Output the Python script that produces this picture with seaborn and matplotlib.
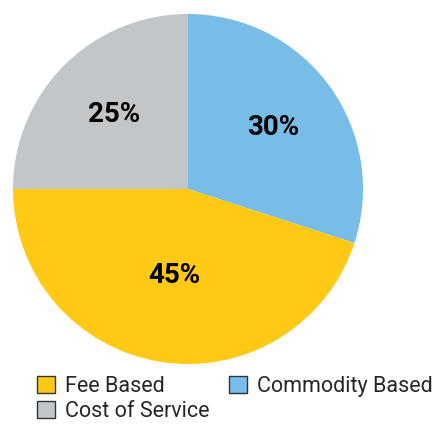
import matplotlib
matplotlib.use("Agg")
import matplotlib.pyplot as plt
from matplotlib.patches import Patch
import numpy as np
import seaborn as sns

labels = ["Commodity Based", "Fee Based", "Cost of Service"]
shares = [30, 45, 25]
colors = ["#78BDE8", "#FFC915", "#C3C6C9"]
legend_order = ["Fee Based", "Cost of Service", "Commodity Based"]
label_dist = [0.6, 0.5, 0.6]

sns.set_theme(style="white")
plt.rcParams['font.family'] = ['Roboto', 'DejaVu Sans']

fig = plt.figure(figsize=(4.38, 4.25), dpi=100)
ax = fig.add_axes([13/438, 61/425, 350/438, 350/425])

wedges, texts = ax.pie(shares, colors=colors, startangle=90, counterclock=False,
                       radius=1, wedgeprops={"linewidth": 0})
ax.set_xlim(-1, 1)
ax.set_ylim(-1, 1)
ax.set_aspect("equal")
ax.axis("off")

for w, s, d in zip(wedges, shares, label_dist):
    ang = np.deg2rad((w.theta1 + w.theta2) / 2)
    ax.text(d*np.cos(ang), d*np.sin(ang), "{}%".format(s), ha="center", va="center",
            fontsize=20, fontweight="bold", color="black")

handles = [Patch(facecolor=colors[labels.index(l)], edgecolor="#333333", linewidth=1, label=l)
           for l in legend_order]
fig.legend(handles=handles, ncol=2, loc="upper left", bbox_to_anchor=(26/438, 1-365/425),
           frameon=False, fontsize=15.5, handlelength=0.85, handleheight=0.85,
           handletextpad=0.45, columnspacing=0.9, labelspacing=0.2, borderpad=0)

plt.savefig("out.png", dpi=100)
